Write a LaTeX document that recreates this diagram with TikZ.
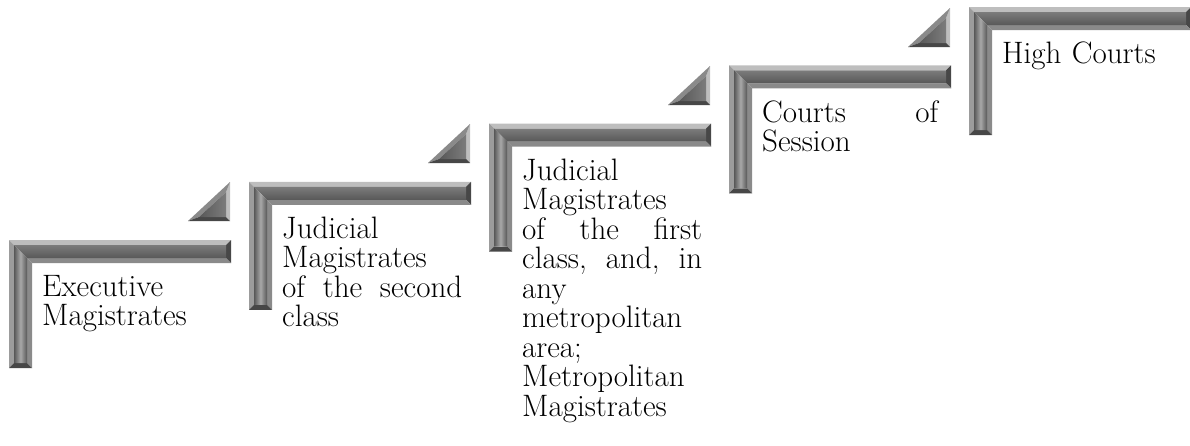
\documentclass[tikz,border=0pt]{standalone}
\begin{document}
\begin{tikzpicture}[x=1pt,y=-1pt,
  steptext/.style={anchor=north west,inner sep=0pt,text width=180pt,align=left,
    font=\fontsize{31}{29.5}\selectfont,text=black}]
\definecolor{bvtop}{HTML}{BEBEBE}
\definecolor{bvleft}{HTML}{9C9C9C}
\definecolor{bvin}{HTML}{8A8A8A}
\definecolor{bvdark}{HTML}{474747}
\definecolor{fcA}{HTML}{7C7C7C}
\definecolor{fcB}{HTML}{585858}
\definecolor{fcL}{HTML}{A8A8A8}
\useasboundingbox (0,0) rectangle (1190,445);
\newcommand\lshape[2]{%
\begin{scope}[shift={(#1,#2)}]
 \fill[bvtop] (0,0)--(222,0)--(217,5)--(5,5)--cycle;
 \fill[bvleft] (0,0)--(5,5)--(5,123)--(0,128)--cycle;
 \fill[bvdark] (222,0)--(222,23)--(217,18)--(217,5)--cycle;
 \fill[bvin] (222,23)--(23,23)--(18,18)--(217,18)--cycle;
 \fill[bvin] (23,23)--(23,128)--(18,123)--(18,18)--cycle;
 \fill[bvdark] (23,128)--(0,128)--(5,123)--(18,123)--cycle;
 \shade[top color=fcA,bottom color=fcB] (5,5)--(217,5)--(217,18)--(18,18)--cycle;
 \shade[left color=fcB,right color=fcB,middle color=fcL] (5,5)--(18,18)--(18,123)--(5,123)--cycle;
\end{scope}}
\newcommand\tri[2]{%
\begin{scope}[shift={(#1,#2)}]
 \fill[bvtop] (0,0)--(0,39)--(-4,35)--(-4,10)--cycle;
 \fill[bvin] (-42,39)--(0,0)--(-4,10)--(-31,35)--cycle;
 \fill[bvdark] (-42,39)--(0,39)--(-4,35)--(-31,35)--cycle;
 \shade[left color=fcB,right color=fcA] (-31,35)--(-4,35)--(-4,10)--cycle;
\end{scope}}
\lshape{9}{240}
\lshape{249}{181.75}
\lshape{489}{123.5}
\lshape{729}{65.25}
\lshape{969}{7}
\tri{230}{182}
\tri{470}{124}
\tri{710}{66}
\tri{950}{8}
\node[steptext] (s1) at (42,275) {Executive\\Magistrates};
\node[steptext] (s2) at (282,216.75) {Judicial\\Magistrates\\of\hfill the\hfill second\\class};
\node[steptext] (s3) at (522,158.5) {Judicial\\Magistrates\\of\hfill the\hfill first\\class,\hfill and,\hfill in\\any\\metropolitan\\area;\\Metropolitan\\Magistrates};
\node[steptext,text width=176pt] (s4) at (762,100.25) {Courts\hfill of\\Session};
\node[steptext] (s5) at (1002,42) {High Courts};
\end{tikzpicture}
\end{document}
